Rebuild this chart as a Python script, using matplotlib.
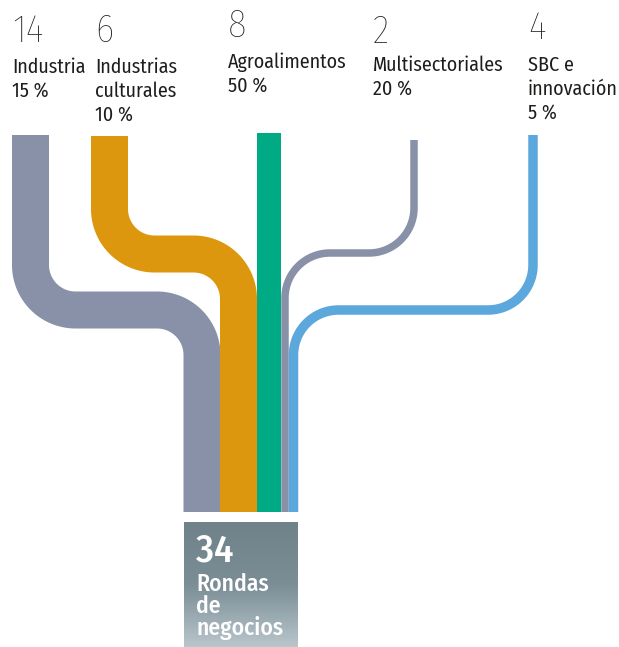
import numpy as np
import matplotlib
matplotlib.use("Agg")
import matplotlib.pyplot as plt
from matplotlib.colors import LinearSegmentedColormap

# Data
sectors = ["Industria", "Industrias\nculturales", "Agroalimentos", "Multisectoriales", "SBC e\ninnovación"]
counts = [14, 6, 8, 2, 4]
shares = [15, 10, 50, 20, 5]
total_label = "Rondas\nde\nnegocios"

# Layout (pixels, y grows downwards)
colors = ["#8891a8", "#dc970e", "#00aa84", "#8891a8", "#5ca8dc"]
widths = [37, 37, 24, 7.5, 9.5]
x_top = [30.5, 109.5, 269, 414, 533]
y_top = [135, 136, 133, 140, 135]
y_turn = [310, 254, None, 253, 310]
x_bot = [202, 238.5, 269, 285, 293.5]
y_bot = 512
radius = 45

text_x = [12, 95, 228, 373, 528]
num_base = [42, 42, 37, 43, 39]
lab_base = [73, 73, 68, 71, 71]
line_gap = 24

FONT = "Fira Sans Condensed"
TXT = "#1d1d1b"


def flow_path(xt, yt, yh, xb, yb, r):
    if yh is None or xt == xb:
        return np.array([xt, xb]), np.array([yt, yb])
    s = np.sign(xb - xt)
    t = np.linspace(0, np.pi / 2, 40)
    xs = [xt]
    ys = [yt]
    # first bend
    cx, cy = xt + s * r, yh - r
    xs += list(cx - s * r * np.cos(t))
    ys += list(cy + r * np.sin(t))
    # second bend
    cx, cy = xb - s * r, yh + r
    xs += list(cx + s * r * np.sin(t))
    ys += list(cy - r * np.cos(t))
    xs.append(xb)
    ys.append(yb)
    return np.array(xs), np.array(ys)


fig = plt.figure(figsize=(6.19, 6.47), dpi=100)
ax = fig.add_axes([0, 0, 1, 1])
ax.set_xlim(0, 619)
ax.set_ylim(647, 0)
ax.axis("off")

px = 72 / 100  # pixel -> point
for i in range(len(sectors)):
    xs, ys = flow_path(x_top[i], y_top[i], y_turn[i], x_bot[i], y_bot, radius)
    ax.plot(xs, ys, color=colors[i], lw=widths[i] * px,
            solid_capstyle="butt", solid_joinstyle="round")

    ax.text(text_x[i], num_base[i], str(counts[i]), fontsize=28, family=FONT,
            weight=250, color=TXT, va="baseline", ha="left")
    lines = sectors[i].split("\n") + [f"{shares[i]} %"]
    for k, line in enumerate(lines):
        ax.text(text_x[i], lab_base[i] + k * line_gap, line, fontsize=14.4, family=FONT,
                weight=400, color=TXT, va="baseline", ha="left")

# total box with vertical gradient
box_l, box_r, box_t, box_b = 184, 298, 522, 647
grad = np.linspace(0, 1, 256).reshape(-1, 1)
cmap = LinearSegmentedColormap.from_list("box", ["#6f8189", "#7b8d95", "#b9c6cc"])
ax.imshow(grad, cmap=cmap, aspect="auto", extent=(box_l, box_r, box_b, box_t),
          origin="upper", zorder=1)

ax.text(196, 562, str(sum(counts)), fontsize=28, family=FONT, weight=500,
        color="white", va="baseline", ha="left", zorder=2)
for k, line in enumerate(total_label.split("\n")):
    ax.text(196, 591 + k * 22, line, fontsize=17, family=FONT, weight=500,
            color="white", va="baseline", ha="left", zorder=2)

ax.set_xlim(0, 619)
ax.set_ylim(647, 0)
fig.savefig("out.png", dpi=100)
